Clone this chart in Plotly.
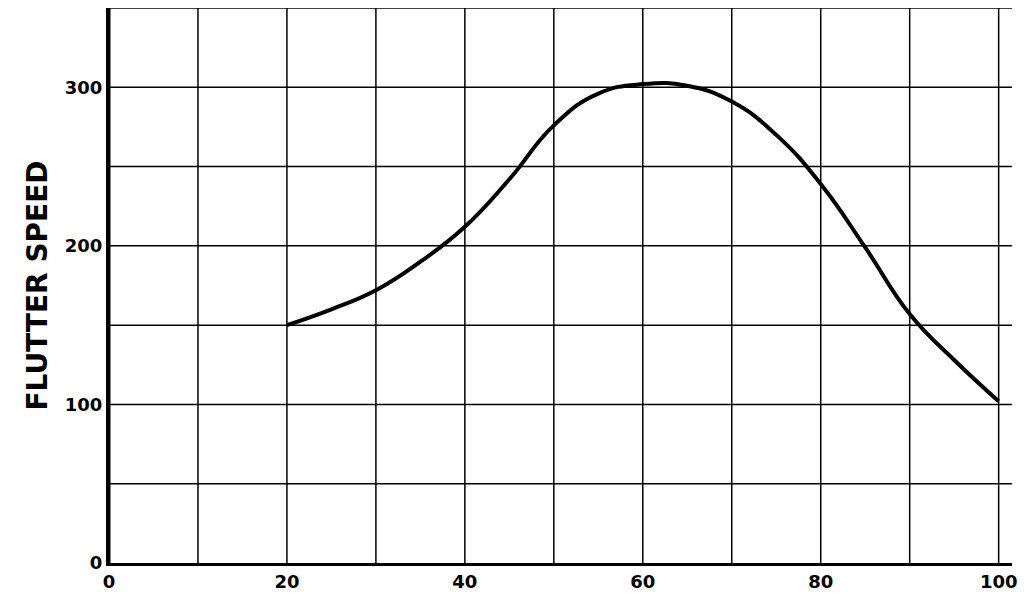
import plotly.graph_objects as go

x_vals = [20, 25, 30, 35, 40, 45, 50, 55, 60, 65, 70, 75, 80, 85, 90, 95, 100]
speed = [150, 160, 172, 190, 212, 242, 276, 296, 302, 301, 291, 270, 239, 199, 157, 128, 102]
x_ticks = [0, 20, 40, 60, 80, 100]
y_ticks = [0, 100, 200, 300]

fig = go.Figure(go.Scatter(x=x_vals, y=speed, mode="lines",
                           line=dict(color="black", width=4, shape="spline", smoothing=1.3)))
fig.update_layout(
    width=1026, height=600, paper_bgcolor="white", plot_bgcolor="white",
    margin=dict(l=101, r=22, t=0, b=45, autoexpand=False), showlegend=False,
    font=dict(family="DejaVu Sans", size=18, color="black"),
)
fig.update_xaxes(range=[0, 101.5], tickvals=x_ticks, ticktext=[f"<b>{v}</b>" for v in x_ticks],
                 showgrid=False, zeroline=False, showline=True, linecolor="black", linewidth=3, ticks="")
for gx in range(10, 101, 10):
    fig.add_shape(type="line", x0=gx, x1=gx, y0=0, y1=1, yref="paper", line=dict(color="black", width=1.5), layer="below")
fig.update_yaxes(range=[0, 350], tickvals=y_ticks, ticktext=[f"<b>{v}</b>" for v in y_ticks],
                 showgrid=False, zeroline=False, showline=True, linecolor="black", linewidth=3, ticks="",
                 title=dict(text="<b>FLUTTER SPEED</b>", font=dict(size=28), standoff=10))
for gy in range(50, 351, 50):
    fig.add_shape(type="line", x0=0, x1=1, xref="paper", y0=gy, y1=gy, line=dict(color="black", width=1.5), layer="below")
fig.add_shape(type="line", x0=0, x1=0, xref="paper", y0=0, y1=1, yref="paper", line=dict(color="black", width=3))
fig.write_html("out.html")
